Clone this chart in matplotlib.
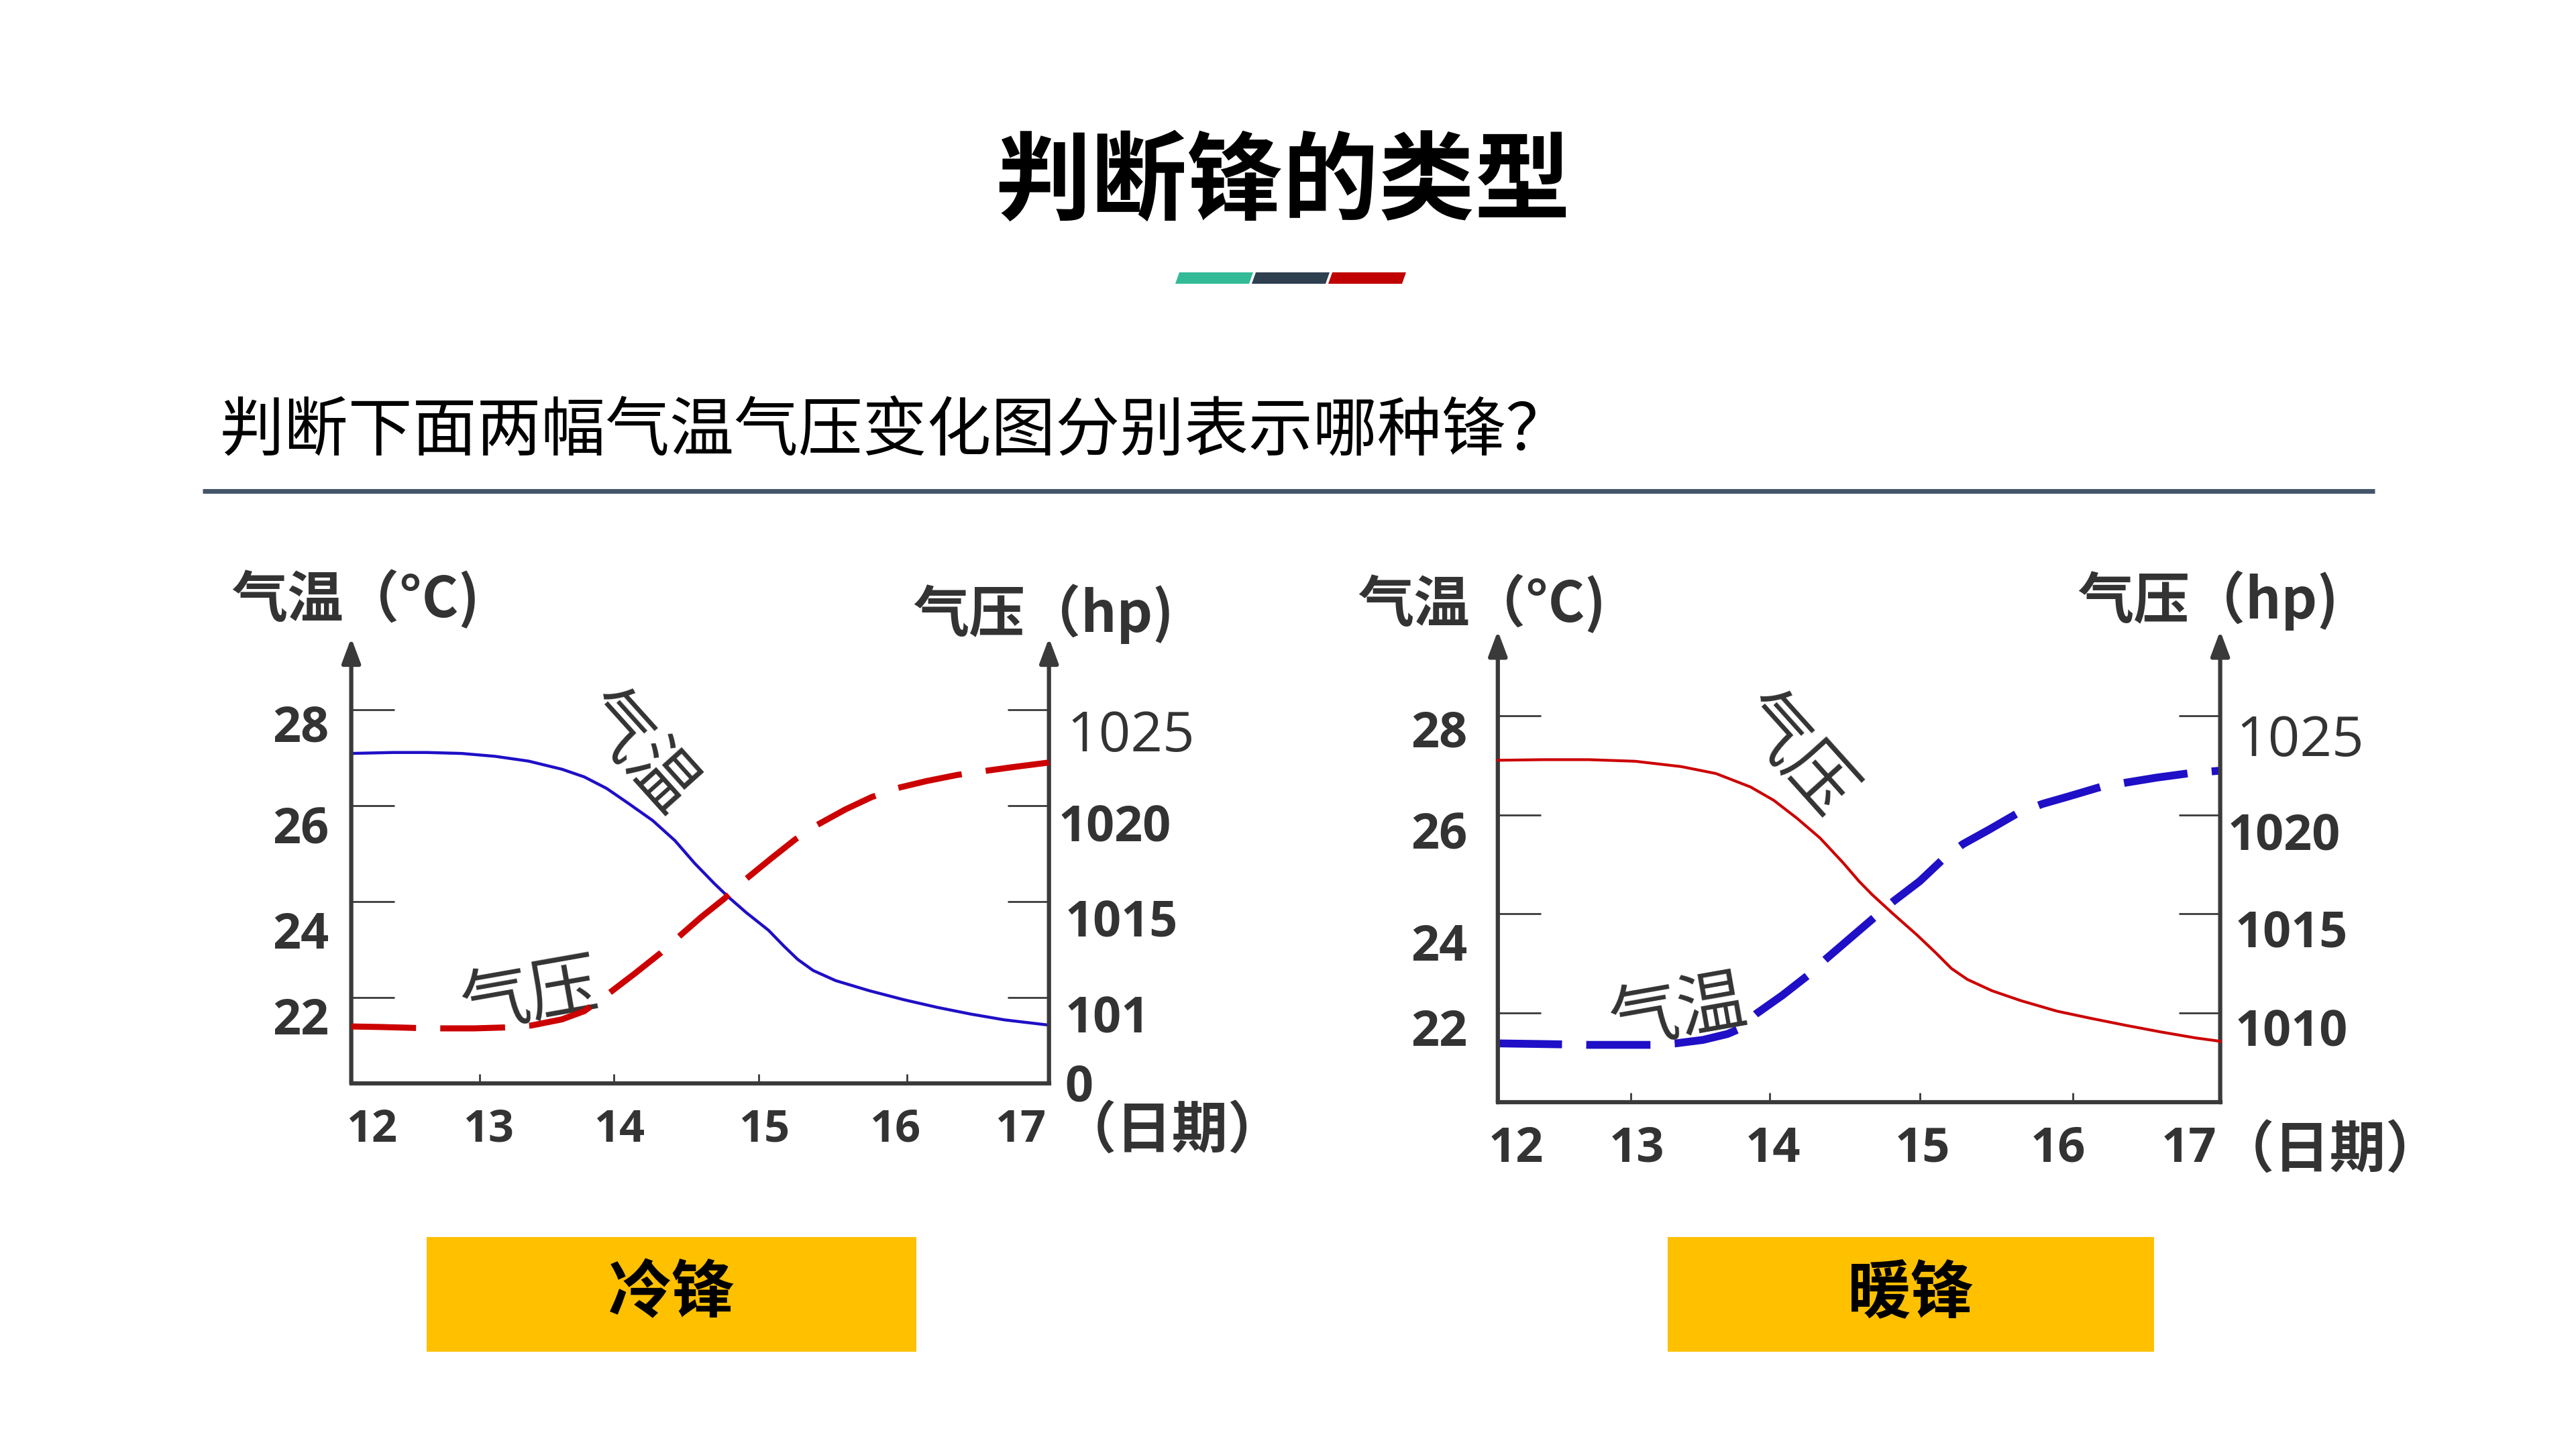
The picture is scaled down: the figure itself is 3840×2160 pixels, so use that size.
import matplotlib
matplotlib.use("Agg")
import matplotlib.pyplot as plt
from matplotlib.patches import Polygon, Rectangle

plt.rcParams['font.family'] = ['Noto Sans CJK SC', 'DejaVu Sans']
NUM_FONT = ['Open Sans', 'DejaVu Sans']

# ---------------- 数据 ----------------
title = "判断锋的类型"
question = "判断下面两幅气温气压变化图分别表示哪种锋？"
front_names = ["冷锋", "暖锋"]

day_labels = ["12", "13", "14", "15", "16", "17"]
day_ticks = [12, 12.92, 13.88, 14.92, 15.98, 17]
temp_ticks = [22, 24, 26, 28]
temp_labels = ["22", "24", "26", "28"]
pres_ticks = [1010, 1015, 1020, 1025]
pres_labels_cold = ["101\n0", "1015", "1020", "1025"]
pres_labels_warm = ["1010", "1015", "1020", "1025"]

# 冷锋：气温（蓝色实线）下降，气压（红色虚线）上升
cold_temp_x = [12.00, 12.30, 12.54, 12.79, 13.03, 13.27, 13.51, 13.67, 13.83, 13.99, 14.16, 14.32, 14.46,
               14.60, 14.70, 14.83, 14.99, 15.10, 15.20, 15.31, 15.47, 15.71, 15.96, 16.20, 16.44, 16.68, 17.00]
cold_temp_y = [27.09, 27.11, 27.11, 27.09, 27.03, 26.93, 26.76, 26.60, 26.36, 26.04, 25.69, 25.27, 24.80,
               24.38, 24.10, 23.77, 23.40, 23.07, 22.79, 22.56, 22.35, 22.14, 21.95, 21.79, 21.65, 21.53, 21.42]
cold_pres_x = [12.00, 12.22, 12.47, 12.65, 12.88, 13.11, 13.29, 13.51, 13.67, 13.85, 14.03, 14.22, 14.35,
               14.51, 14.67, 14.83, 15.01, 15.18, 15.34, 15.54, 15.73, 15.92, 16.12, 16.34, 16.53, 16.76, 17.00]
cold_pres_y = [1008.48, 1008.45, 1008.40, 1008.38, 1008.38, 1008.43, 1008.53, 1008.85, 1009.28, 1010.23,
               1011.23, 1012.33, 1013.18, 1014.20, 1015.13, 1016.18, 1017.25, 1018.23, 1019.00, 1019.80,
               1020.45, 1020.93, 1021.28, 1021.60, 1021.80, 1022.03, 1022.25]

# 暖锋：气压（红色实线）下降，气温（蓝色虚线）上升
warm_pres_x = [12.00, 12.31, 12.63, 12.95, 13.27, 13.51, 13.75, 13.91, 14.07, 14.23, 14.39, 14.50, 14.59,
               14.74, 14.90, 15.03, 15.14, 15.25, 15.42, 15.62, 15.87, 16.11, 16.35, 16.59, 16.83, 17.00]
warm_pres_y = [1022.75, 1022.78, 1022.78, 1022.70, 1022.43, 1022.08, 1021.40, 1020.73, 1019.83, 1018.83,
               1017.58, 1016.65, 1015.98, 1014.98, 1013.95, 1013.05, 1012.25, 1011.70, 1011.13, 1010.63,
               1010.10, 1009.73, 1009.38, 1009.05, 1008.75, 1008.58]
warm_temp_x = [12.00, 12.23, 12.45, 12.63, 13.06, 13.23, 13.42, 13.59, 13.67, 13.79, 13.97, 14.15, 14.27,
               14.49, 14.61, 14.74, 14.92, 15.08, 15.22, 15.40, 15.59, 15.77, 15.95, 16.17, 16.35, 16.56, 16.79, 17.00]
warm_temp_y = [21.39, 21.38, 21.37, 21.36, 21.36, 21.39, 21.46, 21.58, 21.68, 21.99, 22.36, 22.77, 23.09,
               23.64, 23.94, 24.26, 24.66, 25.10, 25.41, 25.70, 26.02, 26.22, 26.37, 26.56, 26.65, 26.75, 26.84, 26.89]

# ---------------- 画布 ----------------
W, H = 3840, 2160
AXC = '#3A3A3A'
TXC = '#333333'
RED = '#CC0000'
BLUE = '#1F0FC6'

fig = plt.figure(figsize=(W / 100, H / 100), dpi=100)
fig.patch.set_facecolor('white')

# 背景坐标系，用像素坐标放置标题、装饰条、按钮
bg = fig.add_axes([0, 0, 1, 1])
bg.set_xlim(0, W)
bg.set_ylim(H, 0)
bg.axis('off')

bg.text(1912, 274, title, ha='center', va='center', fontsize=103, fontweight='heavy', color='black')

bar_colors = ['#33BB98', '#2E3F50', '#C00000']
for i, c in enumerate(bar_colors):
    x0 = 1752 + i * 114
    bg.add_patch(Polygon([(x0, 423), (x0 + 110, 423), (x0 + 116, 406), (x0 + 6, 406)],
                         closed=True, facecolor=c, lw=0))

bg.text(328, 644, question, ha='left', va='center', fontsize=69, color='black')
bg.plot([302, 3540], [732, 732], color='#44546A', lw=5, solid_capstyle='butt')

# 底部黄色答案框
for (bx, bw), name in zip([(636, 730), (2486, 725)], front_names):
    bg.add_patch(Rectangle((bx, 1844), bw, 171, facecolor='#FFC000', lw=0))
    bg.text(bx + bw / 2, 1929, name, ha='center', va='center', fontsize=68,
            fontweight='heavy', color='black')


def t2p(t):
    # 左轴 22~28 ℃ 对应右轴 1010~1025 hPa
    return 1010 + (t - 22) * 2.5


def draw_chart(px, tlim, temp_xy, temp_style, pres_xy, pres_style,
               left_dy, left_gap, right_lab, right_off, x_dx, unit_pos, curve_labels, xlab_size):
    x0, y0, x1, y1 = px
    ax = fig.add_axes([x0 / W, 1 - y1 / H, (x1 - x0) / W, (y1 - y0) / H])
    ax.patch.set_visible(False)
    ax.set_xlim(12, 17)
    ax.set_ylim(*tlim)
    ax2 = ax.twinx()
    ax2.set_ylim(t2p(tlim[0]), t2p(tlim[1]))

    for s in ['top', 'left', 'right']:
        ax.spines[s].set_visible(False)
    for s in ax2.spines.values():
        s.set_visible(False)
    ax.spines['bottom'].set_linewidth(4.5)
    ax.spines['bottom'].set_color(AXC)

    # 两侧带箭头的纵轴
    for xa in (0, 1):
        ax.annotate('', xy=(xa, 1), xycoords='axes fraction', xytext=(xa, 0),
                    arrowprops=dict(arrowstyle='-|>,head_length=0.8,head_width=0.3', color=AXC,
                                    lw=4.5, mutation_scale=28, shrinkA=0, shrinkB=0),
                    annotation_clip=False)

    ax.set_yticks(temp_ticks)
    ax.tick_params(axis='y', direction='in', length=46, width=2, color=AXC, labelleft=False)
    ax2.set_yticks(pres_ticks)
    ax2.tick_params(axis='y', direction='in', length=45, width=2, color=AXC, labelright=False)
    ax.set_xticks(day_ticks[1:-1])
    ax.tick_params(axis='x', direction='in', length=10, width=2, color=AXC, labelbottom=False)

    # 曲线
    ax.plot(temp_xy[0], temp_xy[1], clip_on=False, **temp_style)
    ax2.plot(pres_xy[0], pres_xy[1], clip_on=False, **pres_style)

    # 左侧温度刻度标签
    for v, lab, dy in zip(temp_ticks, temp_labels, left_dy):
        ax.annotate(lab, xy=(0, v), xycoords=ax.get_yaxis_transform(), xytext=(-left_gap, -dy),
                    textcoords='offset points', ha='right', va='center', fontsize=53,
                    fontweight='bold', color=TXC, family=NUM_FONT)
    # 右侧气压刻度标签（1025 为常规字重）
    for v, lab, (dx, dy) in zip(pres_ticks, right_lab, right_off):
        bold = lab != "1025"
        for k, line in enumerate(lab.split("\n")):
            ax2.annotate(line, xy=(1, v), xycoords=ax2.get_yaxis_transform(),
                         xytext=(dx, -dy - k * 74.6), textcoords='offset points',
                         ha='left', va='center', fontsize=53 if bold else 60,
                         fontweight='bold' if bold else 'normal', color=TXC, family=NUM_FONT)
    # 日期标签
    for d, lab, dx in zip(day_ticks, day_labels, x_dx):
        ax.annotate(lab, xy=(d, 0), xycoords=ax.get_xaxis_transform(), xytext=(dx, -50),
                    textcoords='offset points', ha='center', va='center', fontsize=xlab_size,
                    fontweight='bold', color=TXC, family=NUM_FONT)

    # 轴标题
    (tx, ty), (px_, py_), (dxp, dyp) = unit_pos
    bg.text(tx, ty, "气温（°C)", ha='left', va='center', fontsize=60, fontweight='bold', color=TXC)
    bg.text(px_, py_, "气压（hp)", ha='left', va='center', fontsize=60, fontweight='bold', color=TXC)
    bg.text(dxp, dyp, "（日期）", ha='center', va='center', fontsize=60, fontweight='bold', color=TXC)

    # 曲线旁的倾斜标注
    for (cx, cy, txt, rot) in curve_labels:
        ax.text(cx, cy, txt, rotation=rot, ha='center', va='center', fontsize=74,
                color='#333333', zorder=6)
    return ax


# 冷锋图
draw_chart(
    (523.6, 951, 1563.7, 1614.9), (20.205, 29.50),
    (cold_temp_x, cold_temp_y), dict(color=BLUE, lw=3.2),
    (cold_pres_x, cold_pres_y), dict(color=RED, lw=6.5, dashes=(10.7, 4.0)),
    left_dy=[26.4, 37, 27, 20.6], left_gap=24,
    right_lab=pres_labels_cold, right_off=[(17, 24), (17, 24.5), (9.7, 25), (19, 29.4)],
    x_dx=[22, 9.7, 5.8, 6, -12.4, -31],
    unit_pos=((345, 894), (1361, 915), (1748, 1686)),
    curve_labels=[(14.05, 27.10, "气温", -48), (13.28, 22.0, "气压", 10)],
    xlab_size=48,
)

# 暖锋图
draw_chart(
    (2232.8, 940.4, 3309.6, 1643.3), (20.20, 29.71),
    (warm_temp_x, warm_temp_y), dict(color=BLUE, lw=8.4, dashes=(8.2, 3.1)),
    (warm_pres_x, warm_pres_y), dict(color=RED, lw=3.0),
    left_dy=[21.5, 36.5, 23, 20], left_gap=33,
    right_lab=pres_labels_warm, right_off=[(15.7, 21.5), (15.7, 22.4), (7.8, 24.5), (17.3, 28)],
    x_dx=[19.7, 6.3, 3.9, 3, -15.7, -33.7],
    unit_pos=((2024, 901), (3097, 895), (3473, 1715)),
    curve_labels=[(14.05, 27.20, "气压", -48), (13.25, 22.0, "气温", 10)],
    xlab_size=52,
)

fig.savefig("out.png", dpi=100, facecolor='white')
